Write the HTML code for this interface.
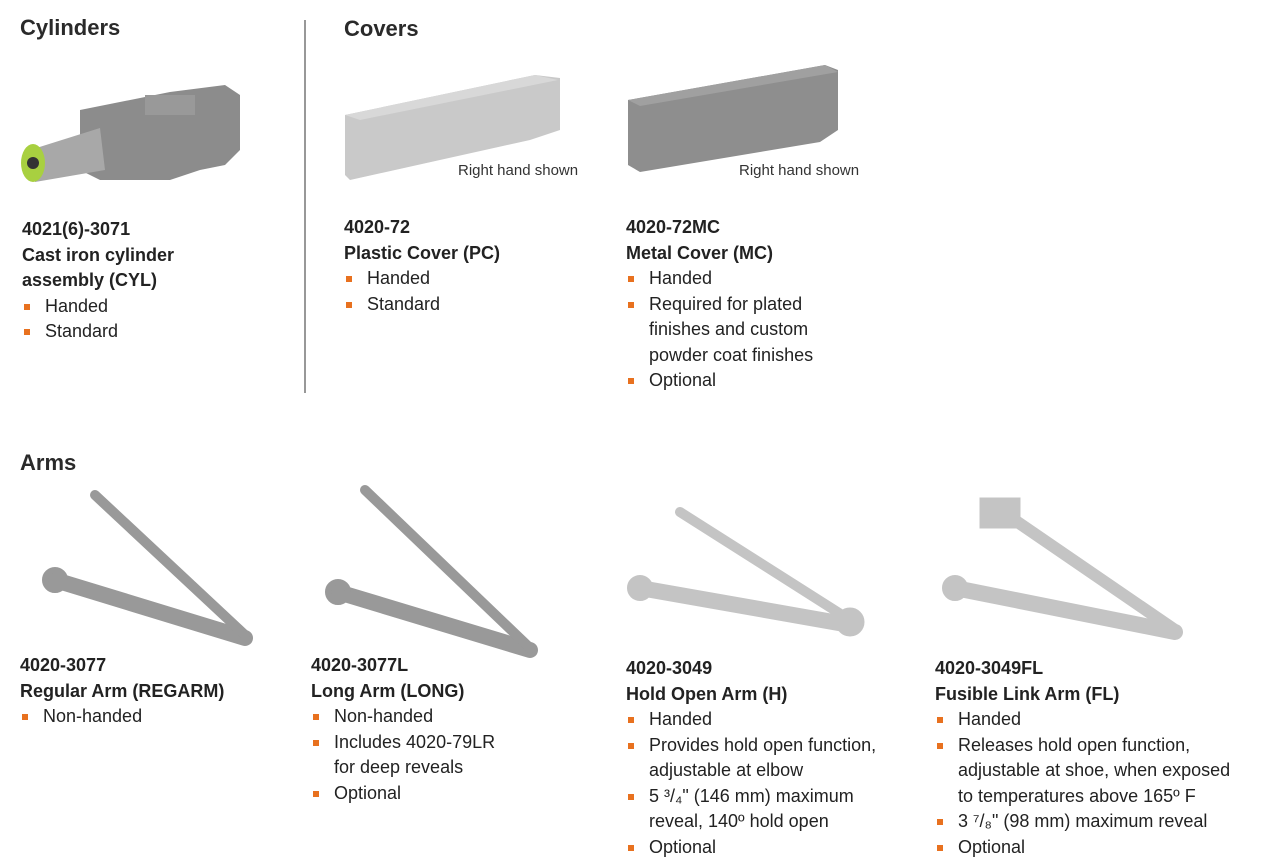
<!DOCTYPE html>
<html><head><meta charset="utf-8"><style>
body{margin:0;width:1280px;height:864px;background:#fff;position:relative;overflow:hidden;font-family:"Liberation Sans",sans-serif;color:#222}
.h{position:absolute;font-weight:bold;font-size:22px;color:#2a2a2a}
.t{position:absolute;font-size:18px;line-height:25.5px;white-space:nowrap}
.t b{display:block;font-weight:bold}
.t .li{position:relative;padding-left:23px}
.t .li::before{content:"";position:absolute;left:2px;top:10px;width:6px;height:6px;background:#e8711f}
.t .c{padding-left:23px}
.s{position:absolute;font-size:15px;color:#333}
svg{position:absolute;left:0;top:0}
</style></head><body>
<svg width="1280" height="864">
<line x1="305" y1="20" x2="305" y2="393" stroke="#777" stroke-width="1.5"/>
<!-- cylinder -->
<polygon points="80,110 170,92 225,85 240,95 240,150 225,165 200,170 170,180 100,180 80,170" fill="#8c8c8c"/>
<rect x="145" y="95" width="50" height="20" fill="#999"/>
<polygon points="30,150 100,128 105,170 35,182" fill="#a8a8a8"/>
<ellipse cx="33" cy="163" rx="12" ry="19" fill="#a8d040"/>
<circle cx="33" cy="163" r="6" fill="#333"/>
<!-- plastic cover -->
<polygon points="345,115 535,75 560,78 560,130 530,140 350,180 345,175" fill="#c9c9c9"/>
<polygon points="345,115 535,75 558,80 360,120" fill="#d8d8d8"/>
<!-- metal cover -->
<polygon points="628,100 825,65 838,70 838,130 820,142 640,172 628,165" fill="#8e8e8e"/>
<polygon points="628,100 825,65 838,72 640,106" fill="#a0a0a0"/>
<!-- arms -->
<g stroke="#999" stroke-linecap="round" fill="none">
<line x1="55" y1="580" x2="245" y2="638" stroke-width="16"/>
<line x1="95" y1="495" x2="245" y2="635" stroke-width="10"/>
<circle cx="55" cy="580" r="10" stroke-width="6"/>
<line x1="338" y1="592" x2="530" y2="650" stroke-width="16"/>
<line x1="365" y1="490" x2="530" y2="648" stroke-width="10"/>
<circle cx="338" cy="592" r="10" stroke-width="6"/>
</g>
<g stroke="#c4c4c4" stroke-linecap="round" fill="none">
<line x1="640" y1="588" x2="850" y2="625" stroke-width="16"/>
<line x1="680" y1="512" x2="850" y2="620" stroke-width="10"/>
<circle cx="640" cy="588" r="10" stroke-width="6"/>
<circle cx="850" cy="622" r="14" fill="#c4c4c4"/>
<line x1="955" y1="588" x2="1175" y2="632" stroke-width="16"/>
<line x1="1000" y1="510" x2="1175" y2="630" stroke-width="12"/>
<circle cx="955" cy="588" r="10" stroke-width="6"/>
<rect x="980" y="498" width="40" height="30" fill="#c4c4c4"/>
</g>
</svg>
<div class="h" style="left:20px;top:15px">Cylinders</div>
<div class="h" style="left:344px;top:16px">Covers</div>
<div class="h" style="left:20px;top:450px">Arms</div>
<div class="s" style="left:458px;top:162px">Right hand shown</div>
<div class="s" style="left:739px;top:162px">Right hand shown</div>

<div class="t" style="left:22px;top:217px"><b>4021(6)-3071</b><b>Cast iron cylinder</b><b>assembly (CYL)</b><div class="li">Handed</div><div class="li">Standard</div></div>
<div class="t" style="left:344px;top:215px"><b>4020-72</b><b>Plastic Cover (PC)</b><div class="li">Handed</div><div class="li">Standard</div></div>
<div class="t" style="left:626px;top:215px"><b>4020-72MC</b><b>Metal Cover (MC)</b><div class="li">Handed</div><div class="li">Required for plated</div><div class="c">finishes and custom</div><div class="c">powder coat finishes</div><div class="li">Optional</div></div>

<div class="t" style="left:20px;top:653px"><b>4020-3077</b><b>Regular Arm (REGARM)</b><div class="li">Non-handed</div></div>
<div class="t" style="left:311px;top:653px"><b>4020-3077L</b><b>Long Arm (LONG)</b><div class="li">Non-handed</div><div class="li">Includes 4020-79LR</div><div class="c">for deep reveals</div><div class="li">Optional</div></div>
<div class="t" style="left:626px;top:656px"><b>4020-3049</b><b>Hold Open Arm (H)</b><div class="li">Handed</div><div class="li">Provides hold open function,</div><div class="c">adjustable at elbow</div><div class="li">5 ³/₄" (146 mm) maximum</div><div class="c">reveal, 140º hold open</div><div class="li">Optional</div></div>
<div class="t" style="left:935px;top:656px"><b>4020-3049FL</b><b>Fusible Link Arm (FL)</b><div class="li">Handed</div><div class="li">Releases hold open function,</div><div class="c">adjustable at shoe, when exposed</div><div class="c">to temperatures above 165º F</div><div class="li">3 ⁷/₈" (98 mm) maximum reveal</div><div class="li">Optional</div></div>
</body></html>
